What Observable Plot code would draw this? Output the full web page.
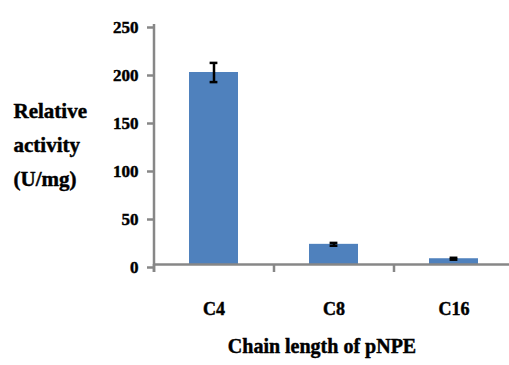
<!DOCTYPE html>
<html><head><meta charset="utf-8">
<script src="https://cdn.jsdelivr.net/npm/d3@7"></script>
<script src="https://cdn.jsdelivr.net/npm/@observablehq/plot@0.6"></script>
<style>html,body{margin:0;padding:0;background:#fff;overflow:hidden;}
#chart svg text{font-family:"Liberation Serif","Times New Roman",serif;font-weight:bold;stroke:#000;stroke-width:0.45px;}</style>
</head><body><div id="chart"></div>
<script>
const categories = ["C4", "C8", "C16"];
const activity = [200, 21, 6];
const errors = [10, 1.5, 1];
const yTicks = [0, 50, 100, 150, 200, 250];
const yLabelLines = ["Relative", "activity", "(U/mg)"];
const xTitle = "Chain length of pNPE";

const data = categories.map((c, i) => ({chain: c, activity: activity[i], err: errors[i]}));

const W = 509, H = 365;
const xRange = [154, 514];
const padInner = 0.59, padOuter = padInner / 2;
const step = (xRange[1] - xRange[0]) / categories.length;
const halfStep = step / 2;
const bw = step * (1 - padInner);
const capW = 8;
const gray = "#878787";
const font = "Liberation Serif";

const chart = Plot.plot({
  width: W, height: H,
  marginLeft: 154, marginRight: 0, marginTop: 24, marginBottom: 101,
  style: {background: "#fff", color: "black", fontFamily: font},
  x: {domain: categories, range: xRange, paddingInner: padInner, paddingOuter: padOuter, axis: null},
  y: {domain: [0, 250], axis: null},
  marks: [
    Plot.barY(data, {x: "chain", y: "activity", fill: "#4F81BD"}),
    Plot.ruleX(data, {x: "chain", y1: d => d.activity - d.err, y2: d => d.activity + d.err, stroke: "black", strokeWidth: 2.5}),
    Plot.tickY(data, {x: "chain", y: d => d.activity + d.err, stroke: "black", strokeWidth: 2.5, insetLeft: (bw - capW) / 2, insetRight: (bw - capW) / 2}),
    Plot.tickY(data, {x: "chain", y: d => d.activity - d.err, stroke: "black", strokeWidth: 2.5, insetLeft: (bw - capW) / 2, insetRight: (bw - capW) / 2}),
    Plot.ruleY([0], {stroke: gray, strokeWidth: 2.5}),
    Plot.ruleX([categories[0]], {dx: -halfStep, stroke: gray, strokeWidth: 2.5, insetBottom: -8}),
    Plot.ruleX(categories, {dx: -halfStep, y1: 0, y2: 0, stroke: gray, strokeWidth: 2.5, insetBottom: -8}),
    Plot.axisY({ticks: yTicks, tickSize: 7, tickPadding: 9, stroke: gray, strokeWidth: 2.5, fill: "black", fontSize: 17, fontWeight: "bold", fontFamily: font, label: null, dy: 3}),
    Plot.axisX({tickSize: 0, tickPadding: 38, fill: "black", fontSize: 18, fontWeight: "bold", fontFamily: font, label: null}),
    Plot.text([yLabelLines.join("\n")], {frameAnchor: "left", dx: -141, dy: -3, textAnchor: "start", lineHeight: 1.62, fontSize: 21, fontWeight: "bold", fontFamily: font, fill: "black"}),
    Plot.text([xTitle], {frameAnchor: "bottom", dx: -10, dy: 88, fontSize: 20, fontWeight: "bold", fontFamily: font, fill: "black"})
  ]
});
document.getElementById("chart").appendChild(chart);
</script>
</body></html>
